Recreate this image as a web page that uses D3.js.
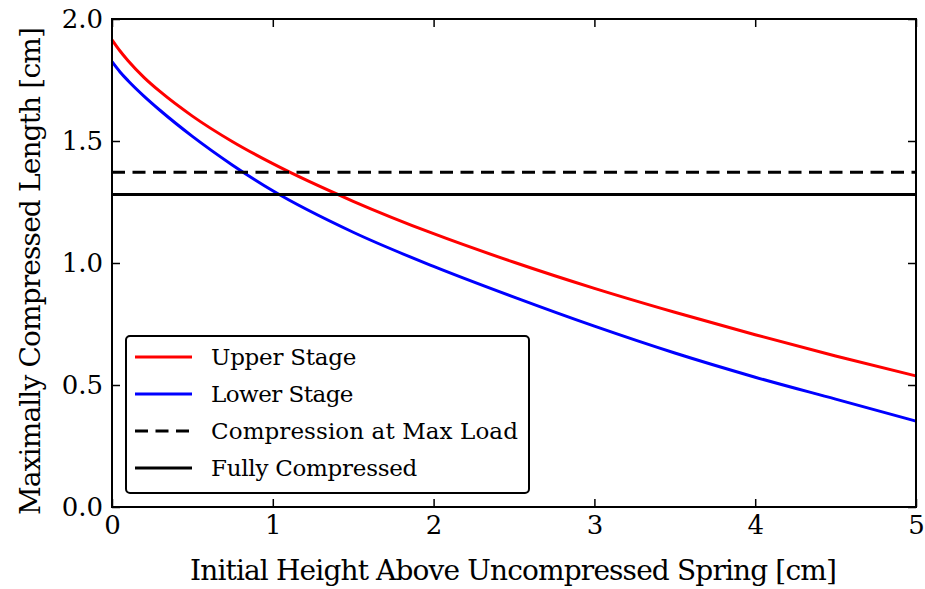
<!DOCTYPE html>
<html>
<head>
<meta charset="utf-8">
<script src="https://cdn.jsdelivr.net/npm/d3@7"></script>
</head>
<body style="margin:0">
<svg id="chart" width="925" height="589"></svg>
<script>
// heights [cm]
var heights = [0, 0.05, 0.1, 0.2, 0.3, 0.5, 0.75, 1, 1.5, 2, 2.5, 3, 3.5, 4, 4.5, 5];
var upperStage = [1.915, 1.869, 1.829, 1.760, 1.702, 1.602, 1.497, 1.407, 1.253, 1.120, 1.003, 0.896, 0.798, 0.706, 0.619, 0.537];
var lowerStage = [1.825, 1.783, 1.747, 1.683, 1.625, 1.519, 1.401, 1.296, 1.126, 0.986, 0.860, 0.741, 0.631, 0.532, 0.442, 0.352];
var maxLoadLength = 1.372;
var fullyCompressed = 1.281;

var xTicks = [0, 1, 2, 3, 4, 5];
var yTicks = [0, 0.5, 1.0, 1.5, 2.0];
var legendLabels = ["Upper Stage", "Lower Stage", "Compression at Max Load", "Fully Compressed"];

var font = 'DejaVu Serif';
var width = 925, height = 589;
var margin = { left: 112, right: 9, top: 19, bottom: 82 };

var svg = d3.select('#chart').attr('font-family', font);

// nudge a text to the width it has in the picture
function fitWidth(sel, target) {
	var w = sel.node().getComputedTextLength();
	var n = sel.text().length;
	if (w > 0 && n > 1) sel.attr('letter-spacing', ((target - w) / n).toFixed(2));
}

// scales
var xScale = d3.scaleLinear()
	.domain([0, 5])
	.range([margin.left, width - margin.right]);
var yScale = d3.scaleLinear()
	.domain([0, 2])
	.range([height - margin.bottom, margin.top]);

// axes, ticks pointing inwards on all four sides
var tickLen = 8;
var xAxis = d3.axisBottom(xScale).tickValues(xTicks).tickFormat(d3.format('d'))
	.tickSizeInner(-tickLen).tickSizeOuter(0).tickPadding(9);
var yAxis = d3.axisLeft(yScale).tickValues(yTicks).tickFormat(d3.format('.1f'))
	.tickSizeInner(-tickLen).tickSizeOuter(0).tickPadding(9);
var xTop = d3.axisTop(xScale).tickValues(xTicks).tickFormat('')
	.tickSizeInner(-tickLen).tickSizeOuter(0);
var yRight = d3.axisRight(yScale).tickValues(yTicks).tickFormat('')
	.tickSizeInner(-tickLen).tickSizeOuter(0);

// data lines
var line = d3.line()
	.x(function(d) { return xScale(d[0]); })
	.y(function(d) { return yScale(d[1]); })
	.curve(d3.curveMonotoneX);

var dataG = svg.append('g').attr('class', 'data');

dataG.append('path')
	.datum(heights.map(function(h, i) { return [h, upperStage[i]]; }))
	.attr('d', line)
	.attr('fill', 'none').attr('stroke', '#ff0000').attr('stroke-width', 3);

dataG.append('path')
	.datum(heights.map(function(h, i) { return [h, lowerStage[i]]; }))
	.attr('d', line)
	.attr('fill', 'none').attr('stroke', '#0000ff').attr('stroke-width', 3);

dataG.append('line')
	.attr('x1', xScale(0)).attr('x2', xScale(5))
	.attr('y1', yScale(maxLoadLength)).attr('y2', yScale(maxLoadLength))
	.attr('stroke', '#000').attr('stroke-width', 3)
	.attr('stroke-dasharray', '13,7.5');

dataG.append('line')
	.attr('x1', xScale(0)).attr('x2', xScale(5))
	.attr('y1', yScale(fullyCompressed)).attr('y2', yScale(fullyCompressed))
	.attr('stroke', '#000').attr('stroke-width', 3);

// draw axes
var axisG = svg.append('g').attr('class', 'axis');
function styleAxis(g) {
	g.attr('font-family', font).attr('font-size', 26);
	g.select('.domain').remove();
	g.selectAll('.tick line').attr('stroke', '#000').attr('stroke-width', 1.5);
	g.selectAll('.tick text').attr('fill', '#000');
}
axisG.append('g')
	.attr('transform', 'translate(0,' + (height - margin.bottom) + ')')
	.call(xAxis).call(styleAxis);
axisG.append('g')
	.attr('transform', 'translate(' + margin.left + ',0)')
	.call(yAxis).call(styleAxis);
axisG.append('g')
	.attr('transform', 'translate(0,' + margin.top + ')')
	.call(xTop).call(styleAxis);
axisG.append('g')
	.attr('transform', 'translate(' + (width - margin.right) + ',0)')
	.call(yRight).call(styleAxis);

// frame
axisG.append('rect')
	.attr('x', margin.left).attr('y', margin.top)
	.attr('width', width - margin.left - margin.right)
	.attr('height', height - margin.top - margin.bottom)
	.attr('fill', 'none').attr('stroke', '#000').attr('stroke-width', 2);

// axis titles
var titles = svg.append('g')
	.attr('font-family', font).attr('font-size', 28);

titles.append('text')
	.attr('x', 190).attr('y', 580)
	.text('Initial Height Above Uncompressed Spring [cm]')
	.call(fitWidth, 646);

titles.append('text')
	.attr('transform', 'translate(40,515) rotate(-90)')
	.text('Maximally Compressed Length [cm]')
	.call(fitWidth, 487);

// legend
var legend = svg.append('g').attr('class', 'legend')
	.attr('font-family', font).attr('font-size', 23);
legend.append('rect')
	.attr('x', 126).attr('y', 336).attr('width', 403).attr('height', 157)
	.attr('rx', 4).attr('ry', 4)
	.attr('fill', '#fff').attr('stroke', '#000').attr('stroke-width', 2);

var legendStyles = [
	{ color: '#ff0000', dash: null, len: 145 },
	{ color: '#0000ff', dash: null, len: 142 },
	{ color: '#000', dash: '13,7.5', len: 307 },
	{ color: '#000', dash: null, len: 206 }
];
var rowY = [357, 394, 431, 468];

legendLabels.forEach(function(label, i) {
	legend.append('line')
		.attr('x1', 135).attr('x2', 192)
		.attr('y1', rowY[i]).attr('y2', rowY[i])
		.attr('stroke', legendStyles[i].color).attr('stroke-width', 3)
		.attr('stroke-dasharray', legendStyles[i].dash);
	legend.append('text')
		.attr('x', 211).attr('y', rowY[i] + 8)
		.text(label)
		.call(fitWidth, legendStyles[i].len);
});
</script>
</body>
</html>
